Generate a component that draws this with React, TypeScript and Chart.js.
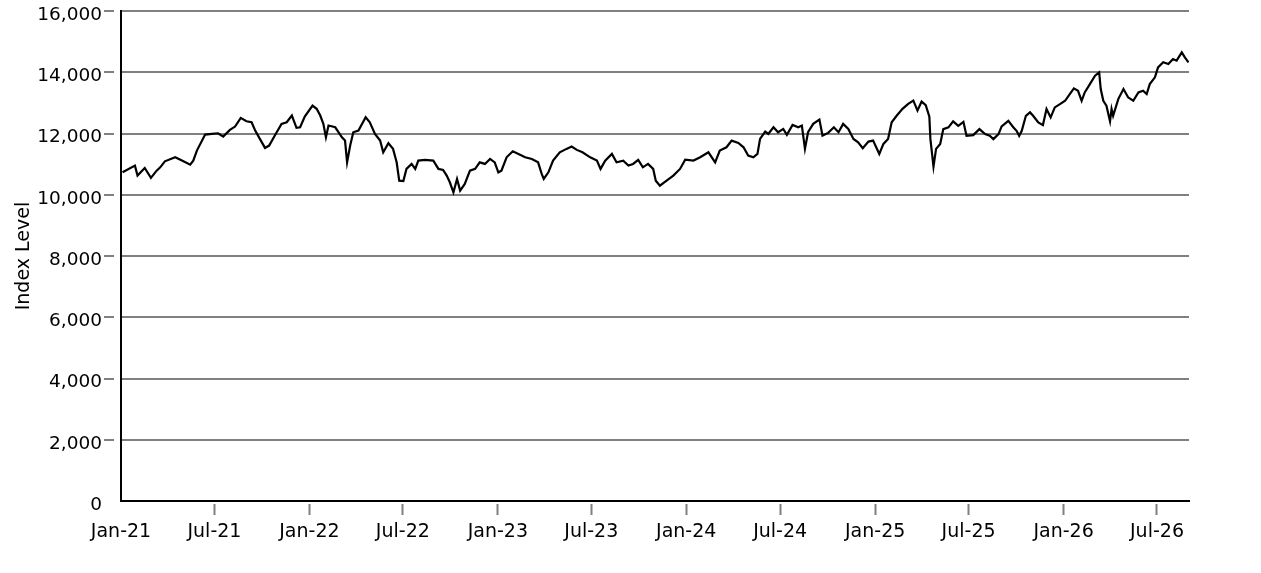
import React, { useEffect, useRef } from "react";
import { Chart, registerables } from "chart.js";

Chart.register(...registerables);

// Observation dates, as days elapsed since 2021-01-01
const dayOffsets = [
  3, 27, 32, 46, 58, 69, 76, 85, 105, 121, 134, 140, 147, 163, 176, 188, 198, 211, 221, 232,
  243, 253, 260, 269, 279, 287, 298, 311, 321, 331, 340, 347, 356, 371, 379, 386, 392, 397, 402, 415,
  428, 434, 438, 444, 450, 460, 474, 482, 492, 502, 508, 518, 527, 534, 539, 547, 553, 563, 570, 576,
  589, 605, 615, 624, 631, 637, 644, 651, 657, 666, 676, 686, 695, 705, 715, 724, 731, 737, 747, 759,
  770, 783, 796, 808, 815, 819, 828, 837, 850, 863, 873, 883, 894, 909, 922, 929, 938, 951, 960, 973,
  983, 992, 1002, 1011, 1021, 1031, 1036, 1044, 1057, 1070, 1083, 1093, 1109, 1122, 1138, 1151, 1160, 1173, 1183, 1196,
  1206, 1215, 1225, 1233, 1238, 1248, 1254, 1264, 1273, 1283, 1290, 1301, 1312, 1319, 1325, 1331, 1341, 1353, 1359, 1370,
  1381, 1390, 1399, 1409, 1419, 1428, 1437, 1448, 1457, 1469, 1477, 1486, 1493, 1503, 1514, 1525, 1535, 1543, 1551, 1559,
  1566, 1568, 1574, 1579, 1587, 1593, 1603, 1612, 1622, 1632, 1638, 1651, 1663, 1674, 1683, 1690, 1700, 1706, 1719, 1729,
  1735, 1740, 1745, 1753, 1761, 1767, 1777, 1786, 1793, 1801, 1809, 1819, 1829, 1838, 1846, 1854, 1861, 1867, 1877, 1887,
  1895, 1898, 1903, 1909, 1916, 1919, 1922, 1932, 1942, 1951, 1961, 1971, 1980, 1987, 1993, 2003, 2009, 2019, 2029, 2038,
  2045, 2055, 2061, 2068,
];

// Index level at each observation date
const indexLevels = [
  10735, 10954, 10627, 10878, 10551, 10790, 10898, 11094, 11225, 11094, 10986, 11117, 11444, 11967, 11990, 12010, 11902, 12121, 12229, 12513,
  12402, 12370, 12098, 11826, 11532, 11608, 11935, 12317, 12370, 12589, 12186, 12206, 12556, 12916, 12808, 12589, 12317, 11879, 12262, 12206,
  11879, 11771, 11061, 11608, 12043, 12098, 12533, 12370, 11990, 11771, 11389, 11683, 11500, 11061, 10463, 10450, 10846, 11009, 10846, 11117,
  11140, 11117, 10846, 10813, 10627, 10409, 10082, 10518, 10136, 10354, 10790, 10846, 11061, 11009, 11172, 11061, 10735, 10790, 11225, 11421,
  11336, 11225, 11172, 11061, 10682, 10518, 10735, 11117, 11389, 11500, 11575, 11467, 11389, 11225, 11117, 10846, 11117, 11336, 11061, 11117,
  10954, 11009, 11140, 10898, 11009, 10846, 10463, 10300, 10463, 10627, 10846, 11150, 11117, 11225, 11389, 11061, 11444, 11552, 11771, 11696,
  11552, 11281, 11225, 11336, 11826, 12065, 11990, 12206, 12043, 12152, 11957, 12284, 12206, 12262, 11500, 12043, 12317, 12458, 11935, 12023,
  12206, 12043, 12317, 12152, 11826, 11716, 11520, 11738, 11771, 11336, 11663, 11826, 12370, 12589, 12808, 12971, 13079, 12752, 13046, 12930,
  12550, 11826, 10920, 11500, 11660, 12146, 12201, 12400, 12253, 12384, 11927, 11950, 12146, 11982, 11927, 11819, 11982, 12234, 12417, 12201,
  12090, 11927, 12090, 12581, 12692, 12581, 12365, 12277, 12800, 12528, 12855, 12963, 13071, 13290, 13477, 13398, 13071, 13346, 13617, 13889,
  14000, 13454, 13071, 12908, 12400, 12800, 12581, 13127, 13454, 13183, 13071, 13346, 13398, 13290, 13617, 13836, 14163, 14327, 14271, 14436,
  14381, 14654, 14490, 14327,
];

const xTickDates = [
  "2021-01-01", "2021-07-01", "2022-01-01", "2022-07-01", "2023-01-01", "2023-07-01",
  "2024-01-01", "2024-07-01", "2025-01-01", "2025-07-01", "2026-01-01", "2026-07-01",
];
const xTickLabels = [
  "Jan-21", "Jul-21", "Jan-22", "Jul-22", "Jan-23", "Jul-23",
  "Jan-24", "Jul-24", "Jan-25", "Jul-25", "Jan-26", "Jul-26",
];
const yTickValues = [0, 2000, 4000, 6000, 8000, 10000, 12000, 14000, 16000];
const axisStartDate = "2021-01-01";
const axisEndDate = "2026-09-01";
const yAxisTitle = "Index Level";

const FONT = "'DejaVu Sans', sans-serif";
const DAY_MS = 86400000;
const toDay = (iso: string) =>
  Math.round((Date.parse(iso + "T00:00:00Z") - Date.parse(axisStartDate + "T00:00:00Z")) / DAY_MS);

export default function App() {
  const canvasRef = useRef<HTMLCanvasElement | null>(null);

  useEffect(() => {
    const canvas = canvasRef.current;
    if (!canvas) return;
    const xTickDays = xTickDates.map(toDay);

    const chart = new Chart(canvas, {
      type: "line",
      data: {
        datasets: [
          {
            data: dayOffsets.map((d, i) => ({ x: d, y: indexLevels[i] })),
            borderColor: "#000000",
            borderWidth: 2.2,
            pointRadius: 0,
            tension: 0,
            fill: false,
          },
        ],
      },
      options: {
        animation: false,
        responsive: false,
        maintainAspectRatio: false,
        layout: { padding: { left: 0, right: 72, top: 0, bottom: 0 } },
        plugins: { legend: { display: false }, tooltip: { enabled: false } },
        scales: {
          x: {
            type: "linear",
            min: 0,
            max: toDay(axisEndDate),
            afterBuildTicks: (s: any) => {
              s.ticks = xTickDays.map((v) => ({ value: v }));
            },
            afterFit: (s: any) => {
              s.height = 72;
            },
            grid: {
              drawOnChartArea: false,
              drawTicks: true,
              tickLength: 14,
              tickWidth: 2,
              tickColor: (c: any) => (c.index === 0 ? "rgba(0,0,0,0)" : "#808080"),
              tickBorderDash: [0, 2, 30],
            },
            border: { display: true, color: "#000000", width: 2 },
            ticks: {
              padding: 6,
              autoSkip: false,
              maxRotation: 0,
              color: "#000000",
              font: { family: FONT, size: 19 },
              callback: (v: any) => {
                const i = xTickDays.indexOf(Number(v));
                return i >= 0 ? xTickLabels[i] : "";
              },
            },
          },
          y: {
            type: "linear",
            min: 0,
            max: 16000,
            afterBuildTicks: (s: any) => {
              s.ticks = yTickValues.map((v) => ({ value: v }));
            },
            afterFit: (s: any) => {
              s.width = 121;
            },
            grid: {
              color: "#808080",
              lineWidth: 2,
              drawTicks: true,
              tickLength: 19,
              tickWidth: 2,
              tickColor: (c: any) => (c.tick && c.tick.value === 0 ? "rgba(0,0,0,0)" : "#808080"),
              tickBorderDash: [0, 2, 10, 40],
            },
            border: { display: true, color: "#000000", width: 2 },
            ticks: {
              padding: 0,
              labelOffset: 4,
              color: "#000000",
              font: { family: FONT, size: 18.5 },
              callback: (v: any) => Number(v).toLocaleString("en-US"),
            },
            title: {
              display: true,
              text: yAxisTitle,
              color: "#000000",
              font: { family: FONT, size: 19 },
              padding: { top: 13, bottom: 0 },
            },
          },
        },
      },
    } as any);

    return () => chart.destroy();
  }, []);

  return (
    <div style={{ position: "absolute", left: 0, top: 0, width: 1261, height: 573, background: "#ffffff" }}>
      <canvas ref={canvasRef} width={1261} height={573} style={{ display: "block" }} />
    </div>
  );
}
